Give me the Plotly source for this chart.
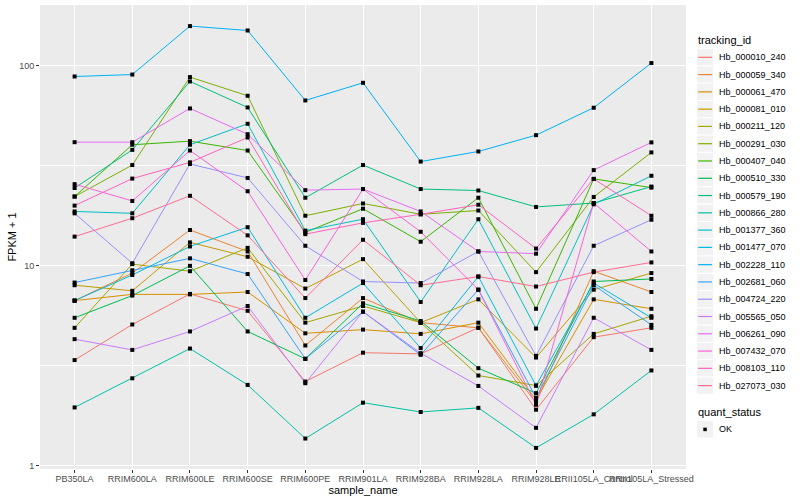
import math
import plotly.graph_objects as go

samples = ["PB350LA", "RRIM600LA", "RRIM600LE", "RRIM600SE", "RRIM600PE", "RRIM901LA",
           "RRIM928BA", "RRIM928LA", "RRIM928LE", "RRII105LA_Control", "RRII105LA_Stressed"]

tracking_ids = ["Hb_000010_240", "Hb_000059_340", "Hb_000061_470", "Hb_000081_010",
                "Hb_000211_120", "Hb_000291_030", "Hb_000407_040", "Hb_000510_330",
                "Hb_000579_190", "Hb_000866_280", "Hb_001377_360", "Hb_001477_070",
                "Hb_002228_110", "Hb_002681_060", "Hb_004724_220", "Hb_005565_050",
                "Hb_006261_090", "Hb_007432_070", "Hb_008103_110", "Hb_027073_030"]

colors = ["#F8766D", "#EA8331", "#D89000", "#C09B00", "#A3A500", "#7CAE00", "#39B600",
          "#00BB4E", "#00BF7D", "#00C1A3", "#00BFC4", "#00BAE0", "#00B0F6", "#35A2FF",
          "#9590FF", "#C77CFF", "#E76BF3", "#FA62DB", "#FF62BC", "#FF6C91"]

# FPKM + 1 values, one list per tracking_id, in sample order
Hb_000010_240 = [3.38, 5.09, 7.24, 5.96, 2.64, 3.68, 3.63, 4.91, 1.91, 4.4, 4.9]
Hb_000059_340 = [6.7, 9.2, 15.1, 11.8, 4.0, 6.9, 5.2, 4.9, 2.07, 9.4, 7.4]
Hb_000061_470 = [6.7, 7.2, 7.2, 7.4, 4.6, 4.8, 4.57, 5.2, 2.14, 6.8, 6.1]
Hb_000081_010 = [8.0, 7.5, 13.1, 11.1, 7.7, 10.8, 5.2, 6.8, 3.48, 7.6, 9.2]
Hb_000211_120 = [4.9, 10.2, 9.4, 12.3, 5.2, 6.3, 5.2, 2.83, 2.52, 4.57, 5.6]
Hb_000291_030 = [22.2, 31.9, 87.8, 70.8, 17.8, 20.5, 18.1, 18.9, 9.3, 22.1, 36.9]
Hb_000407_040 = [22.2, 40.3, 42.0, 37.7, 14.7, 19.3, 13.2, 21.9, 6.1, 27.2, 24.6]
Hb_000510_330 = [5.5, 7.1, 10.0, 4.7, 3.43, 6.5, 5.3, 3.08, 2.31, 8.35, 8.6]
Hb_000579_190 = [24.5, 38.0, 83.5, 61.9, 21.9, 31.9, 24.2, 23.8, 19.7, 20.6, 24.9]
Hb_000866_280 = [1.96, 2.74, 3.86, 2.54, 1.37, 2.07, 1.86, 1.95, 1.23, 1.81, 3.0]
Hb_001377_360 = [18.7, 18.3, 40.3, 51.3, 15.0, 17.1, 6.6, 17.1, 4.86, 20.3, 28.2]
Hb_001477_070 = [6.7, 9.0, 12.5, 15.6, 5.5, 8.2, 3.88, 8.84, 2.52, 8.2, 5.5]
Hb_002228_110 = [88.4, 90.4, 157.9, 150.1, 67.1, 82.2, 33.2, 37.3, 45.0, 61.7, 103.2]
Hb_002681_060 = [8.25, 9.5, 10.9, 9.1, 3.43, 5.9, 3.59, 7.6, 2.19, 8.0, 5.07]
Hb_004724_220 = [18.3, 10.3, 32.3, 27.5, 12.6, 8.35, 8.2, 11.8, 3.55, 12.6, 17.0]
Hb_005565_050 = [4.3, 3.8, 4.7, 6.3, 2.59, 5.9, 3.66, 2.51, 1.55, 5.5, 3.8]
Hb_006261_090 = [41.5, 41.5, 61.2, 45.5, 23.9, 24.2, 18.7, 11.8, 11.5, 30.1, 41.4]
Hb_007432_070 = [25.6, 21.1, 37.7, 23.6, 8.5, 24.2, 14.8, 7.6, 2.02, 20.6, 11.8]
Hb_008103_110 = [20.0, 27.3, 32.9, 43.8, 14.4, 16.4, 18.1, 20.2, 12.2, 27.2, 17.8]
Hb_027073_030 = [14.0, 17.3, 22.4, 14.2, 6.9, 13.5, 8.0, 8.84, 7.88, 9.3, 10.4]

series = [Hb_000010_240, Hb_000059_340, Hb_000061_470, Hb_000081_010, Hb_000211_120,
          Hb_000291_030, Hb_000407_040, Hb_000510_330, Hb_000579_190, Hb_000866_280,
          Hb_001377_360, Hb_001477_070, Hb_002228_110, Hb_002681_060, Hb_004724_220,
          Hb_005565_050, Hb_006261_090, Hb_007432_070, Hb_008103_110, Hb_027073_030]

quant_status = ["OK"]

FONT = "Liberation Sans, Arial, sans-serif"
W, H = 800, 500
ML, MR, MT, MB = 40, 114, 5, 31
PW, PH = W - ML - MR, H - MT - MB


def px(xp):
    return (xp - ML) / PW


def py(yp):
    return (H - MB - yp) / PH


fig = go.Figure()
for name, col, vals in zip(tracking_ids, colors, series):
    fig.add_trace(go.Scatter(
        x=samples, y=vals, mode="lines", name=name,
        line=dict(color=col, width=1), showlegend=False))

all_x, all_y = [], []
for vals in series:
    all_x += samples
    all_y += vals
fig.add_trace(go.Scatter(
    x=all_x, y=all_y, mode="markers", name=quant_status[0],
    marker=dict(color="black", symbol="square", size=4), showlegend=False))

lo = math.log10(min(all_y))
hi = math.log10(max(all_y))
pad = 0.05 * (hi - lo)

# ---- legend drawn in ggplot style (keys with grey boxes) ----
shapes, annots = [], []
KEY = 17.28
kx0, kx1, tx = 696.4, 713.7, 716.8


def key_box(cy):
    shapes.append(dict(type="rect", xref="paper", yref="paper",
                       x0=px(kx0), x1=px(kx1), y0=py(cy + KEY / 2), y1=py(cy - KEY / 2),
                       fillcolor="#F2F2F2", line=dict(color="white", width=1), layer="above"))


annots.append(dict(text="tracking_id", xref="paper", yref="paper", x=px(695.5), y=py(39.5),
                   xanchor="left", yanchor="middle", showarrow=False,
                   font=dict(size=11, color="black", family=FONT)))
for i, (name, col) in enumerate(zip(tracking_ids, colors)):
    cy = 57.3 + i * KEY
    key_box(cy)
    shapes.append(dict(type="line", xref="paper", yref="paper",
                       x0=px(698.2), x1=px(711.9), y0=py(cy), y1=py(cy),
                       line=dict(color=col, width=1.2), layer="above"))
    annots.append(dict(text=name, xref="paper", yref="paper", x=px(tx), y=py(cy),
                       xanchor="left", yanchor="middle", showarrow=False,
                       font=dict(size=9, color="black", family=FONT)))

annots.append(dict(text="quant_status", xref="paper", yref="paper", x=px(695.5), y=py(411.5),
                   xanchor="left", yanchor="middle", showarrow=False,
                   font=dict(size=11, color="black", family=FONT)))
cy = 429.4
key_box(cy)
shapes.append(dict(type="rect", xref="paper", yref="paper",
                   x0=px(703.3), x1=px(706.8), y0=py(cy + 1.75), y1=py(cy - 1.75),
                   fillcolor="black", line=dict(width=0), layer="above"))
annots.append(dict(text=quant_status[0], xref="paper", yref="paper", x=px(tx), y=py(cy),
                   xanchor="left", yanchor="middle", showarrow=False,
                   font=dict(size=9, color="black", family=FONT)))

fig.update_layout(
    width=W, height=H,
    margin=dict(l=ML, r=MR, t=MT, b=MB),
    paper_bgcolor="white", plot_bgcolor="#EBEBEB",
    font=dict(family=FONT, size=9, color="#4D4D4D"),
    showlegend=False,
    shapes=shapes, annotations=annots,
)

fig.update_xaxes(
    type="category", categoryorder="array", categoryarray=samples,
    range=[-0.6, len(samples) - 0.4],
    showgrid=True, gridcolor="white", gridwidth=1.1,
    zeroline=False, showline=False,
    ticks="outside", ticklen=3, tickcolor="#333333", tickwidth=1,
    ticklabelstandoff=-2,
    tickangle=0, tickfont=dict(size=9, color="#4D4D4D", family=FONT),
    title=dict(text="sample_name", font=dict(size=11, color="black", family=FONT), standoff=3),
    automargin=False)

fig.update_yaxes(
    type="log", range=[lo - pad, hi + pad],
    tickvals=[1, 10, 100], ticktext=["1", "10", "100"],
    showgrid=True, gridcolor="white", gridwidth=1.1,
    minor=dict(tickvals=[10 ** 0.5, 10 ** 1.5], showgrid=True, gridcolor="white",
               gridwidth=0.5, ticks=""),
    zeroline=False, showline=False,
    ticks="outside", ticklen=3, tickcolor="#333333", tickwidth=1,
    tickfont=dict(size=9, color="#4D4D4D", family=FONT),
    title=dict(text="FPKM + 1", font=dict(size=11, color="black", family=FONT), standoff=0),
    automargin=False)

fig.write_html("out.html", config={"displayModeBar": False},
               post_script="document.body.style.margin='0px';")
